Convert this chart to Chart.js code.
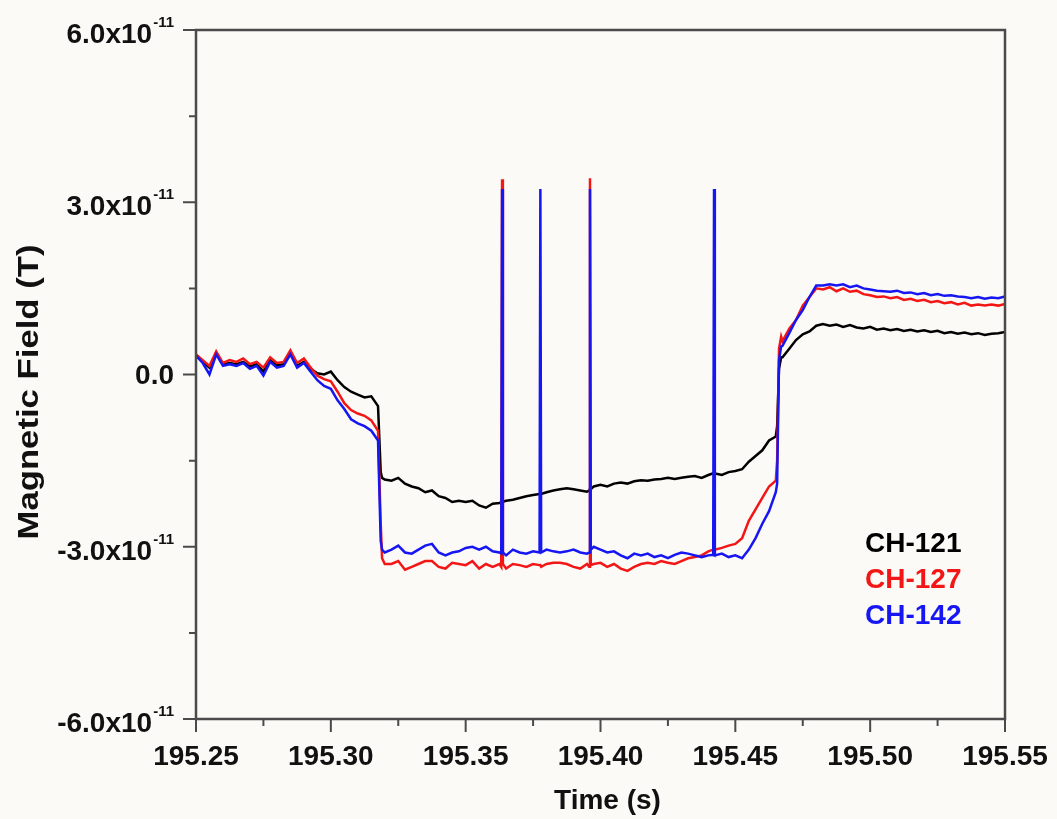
<!DOCTYPE html>
<html>
<head>
<meta charset="utf-8">
<script src="https://cdn.jsdelivr.net/npm/chart.js@4.4.1/dist/chart.umd.min.js"></script>
<style>
  html, body { margin: 0; padding: 0; background: #fbfaf6; }
  #wrap { position: relative; width: 1057px; height: 819px; }
</style>
</head>
<body>
<div id="wrap"><canvas id="field"></canvas></div>
<script>
// sample times (s)
var time = [
  195.25, 195.2525, 195.255, 195.2575, 195.26, 195.2625, 195.265, 195.2675, 195.27, 195.2725,
  195.275, 195.2775, 195.28, 195.2825, 195.285, 195.2875, 195.29, 195.2925, 195.295, 195.2975,
  195.30, 195.3025, 195.305, 195.3075, 195.31, 195.3125, 195.315, 195.3175,
  195.3185, 195.319,
  195.32, 195.3225, 195.325, 195.3275, 195.33, 195.3325, 195.335, 195.3375, 195.34, 195.3425,
  195.345, 195.3475, 195.35, 195.3525, 195.355, 195.3575, 195.36, 195.3625,
  195.3632, 195.3635, 195.3638,
  195.365, 195.3675, 195.37, 195.3725, 195.375,
  195.3774, 195.3777, 195.378,
  195.38, 195.3825, 195.385, 195.3875, 195.39, 195.3925, 195.395,
  195.3958, 195.3961, 195.3964,
  195.3975, 195.40, 195.4025, 195.405, 195.4075, 195.41, 195.4125, 195.415, 195.4175, 195.42,
  195.4225, 195.425, 195.4275, 195.43, 195.4325, 195.435, 195.4375, 195.44,
  195.4418, 195.4421, 195.4424,
  195.445, 195.4475, 195.45, 195.4525, 195.455, 195.4575, 195.46, 195.4625, 195.465,
  195.4655, 195.4662, 195.467,
  195.4675, 195.47, 195.4725, 195.475, 195.4775, 195.48, 195.4825, 195.485, 195.4875, 195.49,
  195.4925, 195.495, 195.4975, 195.50, 195.5025, 195.505, 195.5075, 195.51, 195.5125, 195.515,
  195.5175, 195.52, 195.5225, 195.525, 195.5275, 195.53, 195.5325, 195.535, 195.5375, 195.54,
  195.5425, 195.545, 195.5475, 195.55
];

// field per channel, in units of 1e-11 T
var ch121 = [
  0.33, 0.22, 0.12, 0.38, 0.18, 0.20, 0.18, 0.22, 0.14, 0.18,
  0.05, 0.25, 0.16, 0.18, 0.38, 0.15, 0.22, 0.10, 0.02, 0.00,
  0.05, -0.10, -0.22, -0.30, -0.35, -0.40, -0.38, -0.55,
  -1.70, -1.80,
  -1.83, -1.85, -1.80, -1.90, -1.95, -1.98, -2.05, -2.02, -2.12, -2.15,
  -2.22, -2.20, -2.22, -2.20, -2.28, -2.32, -2.25, -2.24,
  -2.22, -2.22, -2.22,
  -2.20, -2.18, -2.15, -2.12, -2.10,
  -2.08, -2.08, -2.08,
  -2.05, -2.02, -2.00, -1.98, -2.00, -2.02, -2.04,
  -2.02, -2.00, -2.00,
  -1.95, -1.92, -1.95, -1.90, -1.88, -1.90, -1.86, -1.84, -1.85, -1.83,
  -1.82, -1.80, -1.82, -1.80, -1.78, -1.77, -1.80, -1.75,
  -1.72, -1.72, -1.72,
  -1.75, -1.70, -1.68, -1.65, -1.52, -1.42, -1.32, -1.15, -1.08,
  -0.90, 0.10, 0.30,
  0.30, 0.45, 0.60, 0.70, 0.75, 0.85, 0.88, 0.85, 0.87, 0.83,
  0.86, 0.82, 0.80, 0.83, 0.78, 0.80, 0.77, 0.79, 0.76, 0.78,
  0.75, 0.77, 0.74, 0.76, 0.72, 0.74, 0.71, 0.73, 0.70, 0.72,
  0.69, 0.71, 0.72, 0.74
];
var ch127 = [
  0.35, 0.25, 0.15, 0.40, 0.20, 0.25, 0.22, 0.28, 0.18, 0.22,
  0.12, 0.30, 0.20, 0.22, 0.42, 0.20, 0.28, 0.12, -0.02, -0.08,
  -0.12, -0.30, -0.50, -0.62, -0.68, -0.72, -0.80, -0.98,
  -2.60, -3.20,
  -3.30, -3.30, -3.25, -3.40, -3.35, -3.30, -3.25, -3.25, -3.35, -3.38,
  -3.28, -3.30, -3.32, -3.25, -3.38, -3.30, -3.35, -3.30,
  -3.35, 3.40, -3.30,
  -3.38, -3.30, -3.32, -3.35, -3.30,
  -3.32, -3.32, -3.35,
  -3.30, -3.28, -3.28, -3.30, -3.35, -3.38, -3.30,
  -3.35, 3.42, -3.32,
  -3.30, -3.28, -3.35, -3.30, -3.38, -3.42, -3.35, -3.30, -3.28, -3.30,
  -3.25, -3.28, -3.30, -3.25, -3.20, -3.18, -3.15, -3.08,
  -3.05, -3.00, -3.05,
  -3.02, -2.98, -2.95, -2.85, -2.55, -2.35, -2.15, -1.95, -1.85,
  -1.50, 0.45, 0.66,
  0.58, 0.80, 0.95, 1.20, 1.35, 1.50, 1.48, 1.52, 1.45, 1.50,
  1.44, 1.46, 1.40, 1.38, 1.35, 1.36, 1.33, 1.35, 1.30, 1.32,
  1.28, 1.30, 1.26, 1.28, 1.24, 1.26, 1.22, 1.25, 1.20, 1.22,
  1.20, 1.22, 1.20, 1.23
];
var ch142 = [
  0.33, 0.20, 0.00, 0.35, 0.15, 0.18, 0.15, 0.20, 0.10, 0.15,
  -0.02, 0.22, 0.12, 0.15, 0.35, 0.12, 0.20, 0.05, -0.10, -0.20,
  -0.25, -0.45, -0.60, -0.78, -0.85, -0.90, -0.98, -1.15,
  -2.90, -3.05,
  -3.10, -3.05, -2.98, -3.10, -3.12, -3.05, -2.98, -2.95, -3.10, -3.15,
  -3.10, -3.08, -3.02, -3.00, -3.05, -3.00, -3.08, -3.10,
  -3.12, 3.23, -3.10,
  -3.15, -3.05, -3.10, -3.12, -3.08,
  -3.10, 3.23, -3.10,
  -3.05, -3.08, -3.10, -3.08, -3.05, -3.10, -3.12,
  -3.10, 3.23, -3.05,
  -3.00, -3.05, -3.10, -3.08, -3.15, -3.20, -3.12, -3.15, -3.12, -3.18,
  -3.15, -3.20, -3.14, -3.10, -3.12, -3.15, -3.18, -3.15,
  -3.14, 3.23, -3.15,
  -3.12, -3.18, -3.15, -3.20, -3.05, -2.85, -2.60, -2.38, -2.05,
  -1.90, 0.25, 0.49,
  0.50, 0.72, 0.95, 1.12, 1.35, 1.55, 1.55, 1.57, 1.55, 1.57,
  1.52, 1.55, 1.50, 1.48, 1.46, 1.45, 1.44, 1.46, 1.42, 1.43,
  1.40, 1.42, 1.38, 1.40, 1.37, 1.38, 1.36, 1.35, 1.33, 1.35,
  1.32, 1.34, 1.33, 1.36
];

var channels = ['CH-121', 'CH-127', 'CH-142'];
var colors = ['#000000', '#f21616', '#1616f2'];

var xMajor = [195.25, 195.30, 195.35, 195.40, 195.45, 195.50, 195.55];
var xMinor = [195.275, 195.325, 195.375, 195.425, 195.475, 195.525];
var yMajor = [-6, -3, 0, 3, 6];
var yMinor = [-4.5, -1.5, 1.5, 4.5];

var FONT = '"Liberation Sans", Arial, Helvetica, sans-serif';

function points(values) {
    return time.map((t, i) => ({x: t, y: values[i]}));
}

// frame, ticks, labels and the coloured channel names
var axesPlugin = {
    id: 'axesPlugin',
    beforeDraw(chart) {
        var ctx = chart.ctx;
        ctx.save();
        ctx.fillStyle = '#fbfaf6';
        ctx.fillRect(0, 0, chart.width, chart.height);
        ctx.restore();
    },
    afterDatasetsDraw(chart) {
        var ctx = chart.ctx;
        var a = chart.chartArea;
        var xs = chart.scales.x, ys = chart.scales.y;
        ctx.save();

        ctx.strokeStyle = '#4a4a4a';
        ctx.lineWidth = 2.5;
        ctx.strokeRect(a.left, a.top, a.right - a.left, a.bottom - a.top);

        ctx.lineWidth = 2;
        ctx.beginPath();
        yMajor.forEach(v => { var p = ys.getPixelForValue(v); ctx.moveTo(a.left, p); ctx.lineTo(a.left - 13, p); });
        yMinor.forEach(v => { var p = ys.getPixelForValue(v); ctx.moveTo(a.left, p); ctx.lineTo(a.left - 7, p); });
        xMajor.forEach(v => { var p = xs.getPixelForValue(v); ctx.moveTo(p, a.bottom); ctx.lineTo(p, a.bottom + 13); });
        xMinor.forEach(v => { var p = xs.getPixelForValue(v); ctx.moveTo(p, a.bottom); ctx.lineTo(p, a.bottom + 7); });
        ctx.stroke();

        ctx.fillStyle = '#111';

        // x tick labels
        ctx.font = 'bold 28px ' + FONT;
        ctx.textAlign = 'center';
        ctx.textBaseline = 'alphabetic';
        xMajor.forEach(v => {
            ctx.fillText(v.toFixed(2), xs.getPixelForValue(v), a.bottom + 46);
        });

        // y tick labels, x10^-11 written with a raised exponent
        var right = a.left - 22;
        yMajor.forEach(v => {
            var p = ys.getPixelForValue(v);
            if (v === 0) {
                ctx.font = 'bold 28px ' + FONT;
                ctx.textAlign = 'right';
                ctx.fillText('0.0', right, p + 9);
                return;
            }
            ctx.font = 'bold 15px ' + FONT;
            var sw = ctx.measureText('-11').width;
            ctx.textAlign = 'left';
            ctx.fillText('-11', right - sw, p - 3);
            ctx.font = 'bold 28px ' + FONT;
            ctx.textAlign = 'right';
            ctx.fillText(v.toFixed(1) + 'x10', right - sw - 1, p + 13);
        });

        // axis titles
        ctx.font = 'bold 28px ' + FONT;
        ctx.textAlign = 'center';
        ctx.fillText('Time (s)', (a.left + a.right) / 2 + 7, a.bottom + 90);

        ctx.save();
        ctx.translate(38, 392);
        ctx.rotate(-Math.PI / 2);
        ctx.font = 'bold 30px ' + FONT;
        var tw = ctx.measureText('Magnetic Field (T)').width;
        ctx.scale(295 / tw, 1);
        ctx.fillText('Magnetic Field (T)', 0, 0);
        ctx.restore();

        // channel names in their line colours
        ctx.font = 'bold 28px ' + FONT;
        ctx.textAlign = 'left';
        chart.data.datasets.forEach((ds, i) => {
            ctx.fillStyle = ds.borderColor;
            ctx.fillText(ds.label, 865, 552 + i * 36);
        });

        ctx.restore();
    }
};

var chart = new Chart(document.getElementById('field'), {
    type: 'line',
    data: {
        datasets: [
            {label: channels[0], data: points(ch121), borderColor: colors[0], order: 3},
            {label: channels[1], data: points(ch127), borderColor: colors[1], order: 2},
            {label: channels[2], data: points(ch142), borderColor: colors[2], order: 1}
        ]
    },
    options: {
        responsive: true,
        maintainAspectRatio: false,
        animation: false,
        layout: {padding: {left: 196, right: 52, top: 30, bottom: 100}},
        elements: {
            point: {radius: 0},
            line: {borderWidth: 2.5, tension: 0}
        },
        scales: {
            x: {type: 'linear', min: 195.25, max: 195.55, display: false},
            y: {type: 'linear', min: -6, max: 6, display: false}
        },
        plugins: {
            legend: {display: false},
            tooltip: {enabled: false}
        }
    },
    plugins: [axesPlugin]
});
</script>
</body>
</html>
